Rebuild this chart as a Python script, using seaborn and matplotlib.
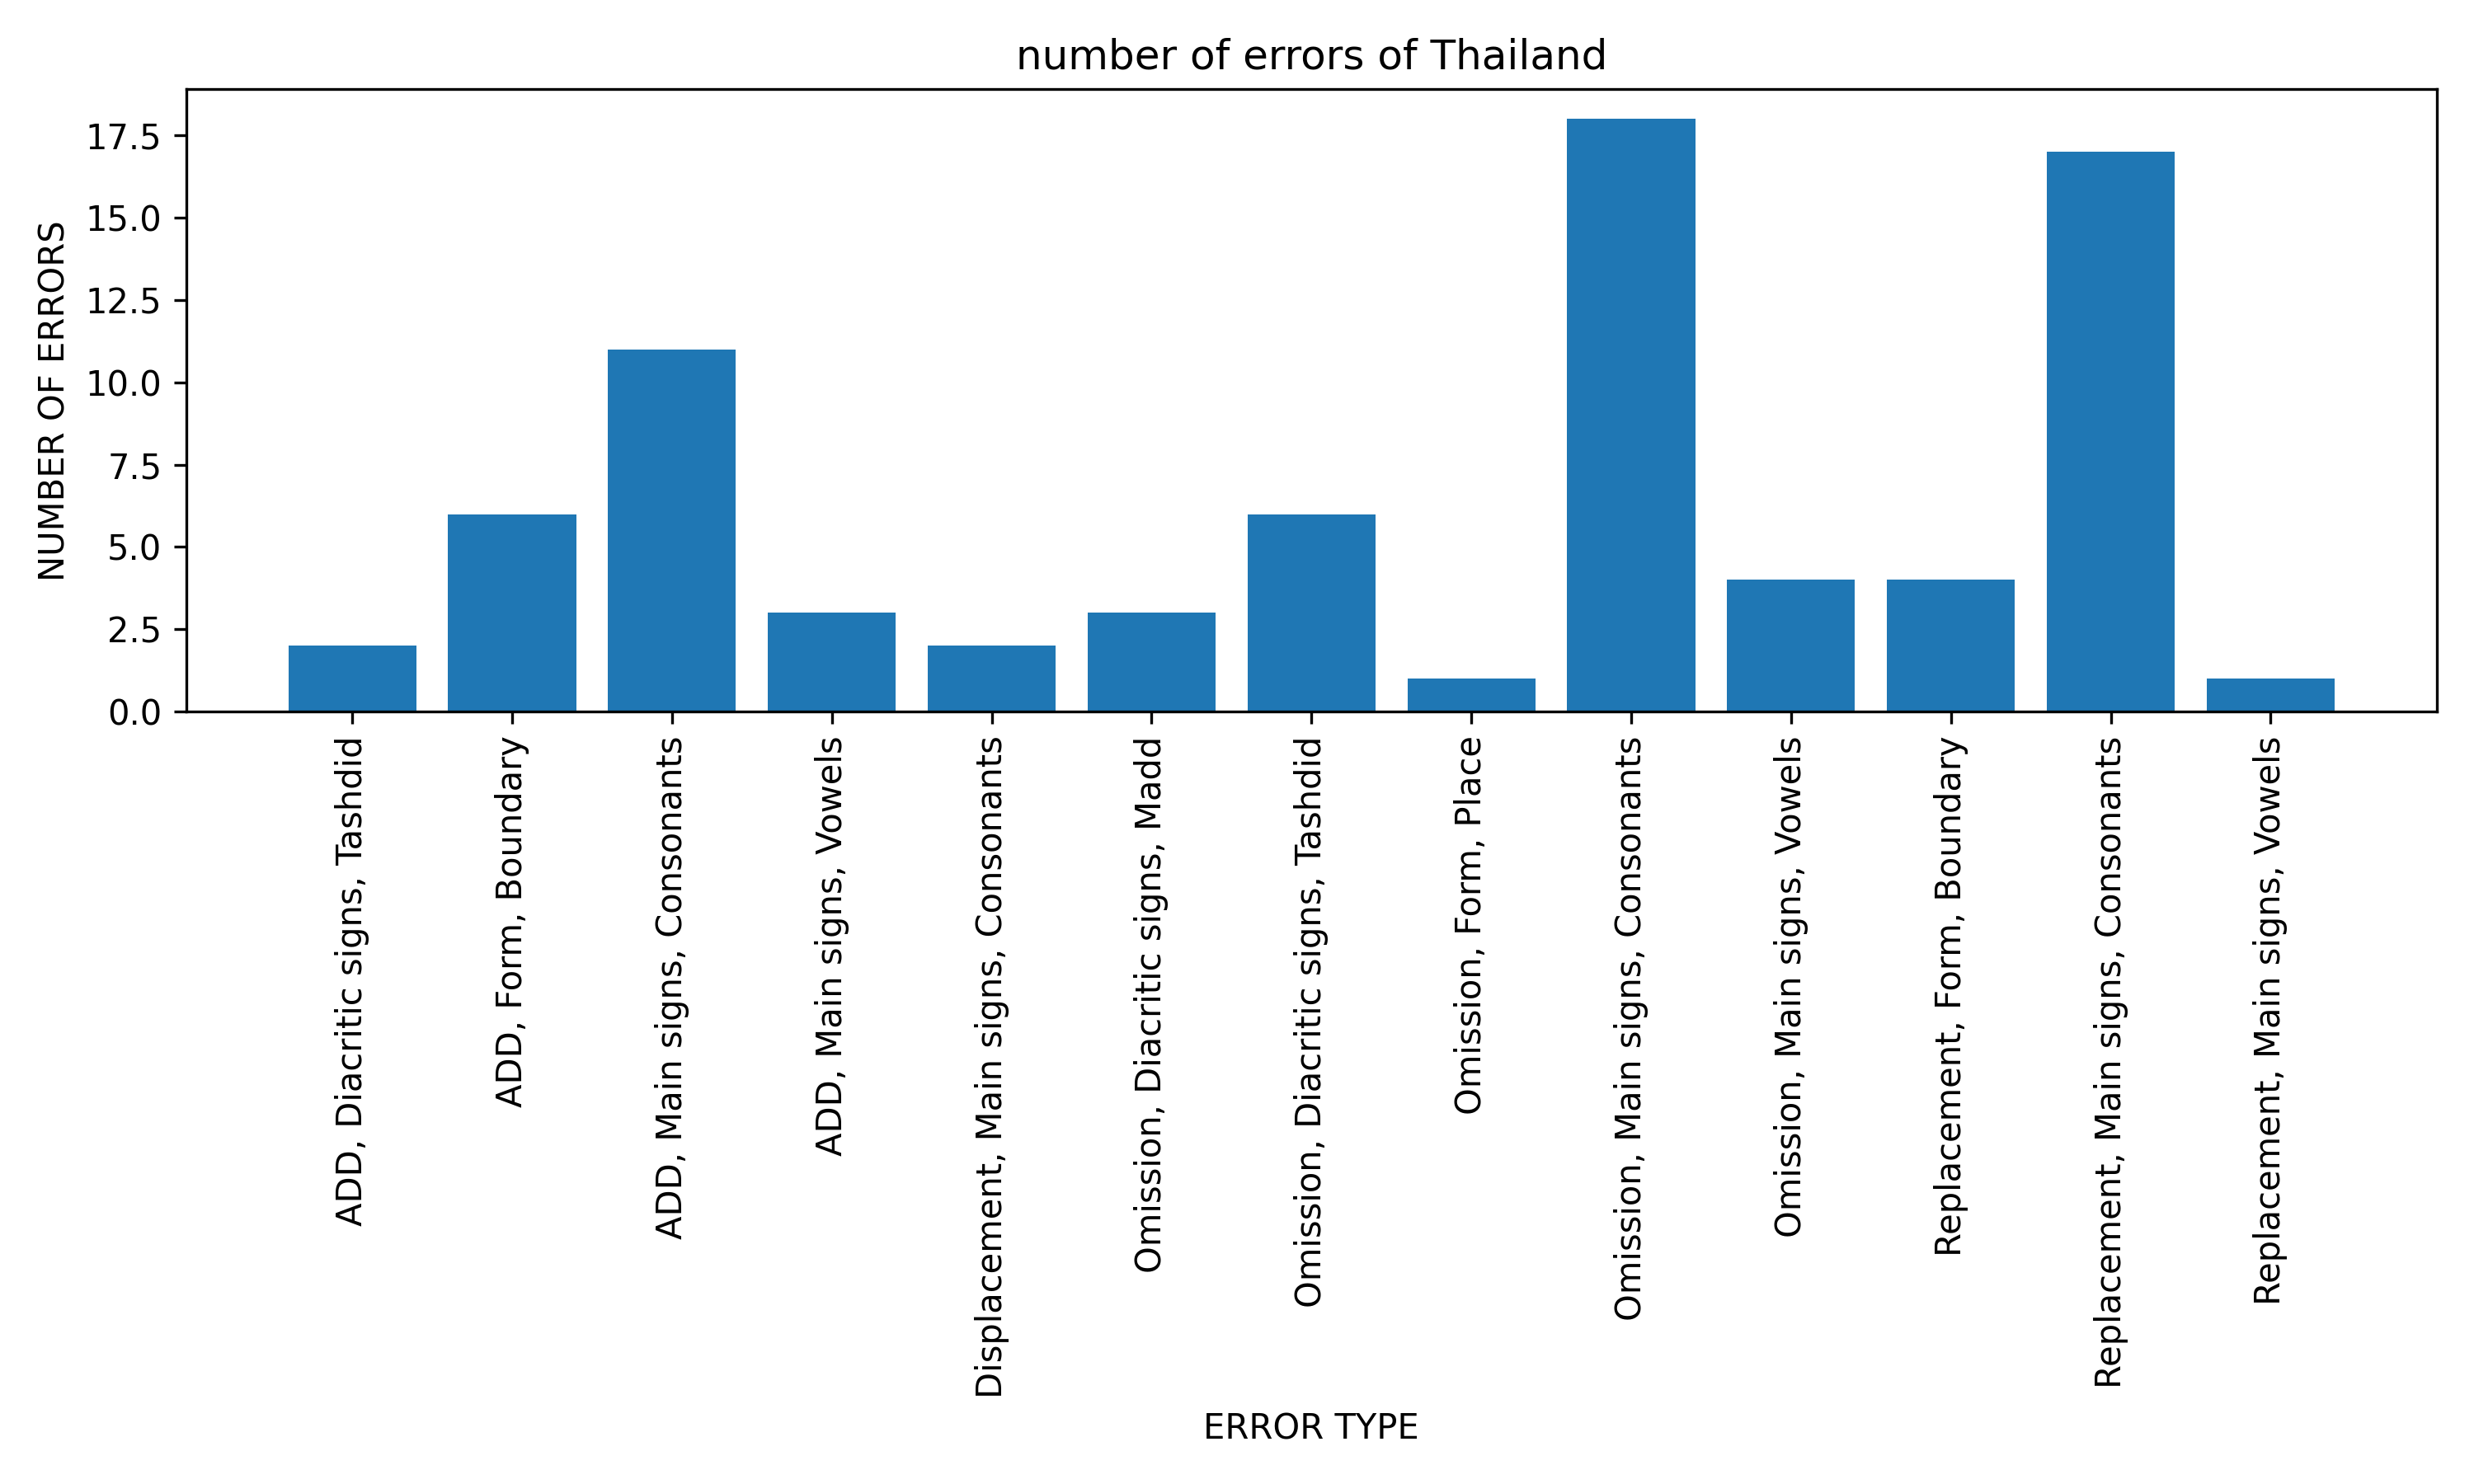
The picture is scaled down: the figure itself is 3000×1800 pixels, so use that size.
import matplotlib
matplotlib.use('Agg')
import matplotlib.pyplot as plt
import seaborn as sns
import pandas as pd

error_types = [
    "ADD, Diacritic signs, Tashdid",
    "ADD, Form, Boundary",
    "ADD, Main signs, Consonants",
    "ADD, Main signs, Vowels",
    "Displacement, Main signs, Consonants",
    "Omission, Diacritic signs, Madd",
    "Omission, Diacritic signs, Tashdid",
    "Omission, Form, Place",
    "Omission, Main signs, Consonants",
    "Omission, Main signs, Vowels",
    "Replacement, Form, Boundary",
    "Replacement, Main signs, Consonants",
    "Replacement, Main signs, Vowels",
]
error_counts = [2, 6, 11, 3, 2, 3, 6, 1, 18, 4, 4, 17, 1]

df = pd.DataFrame({'type': error_types, 'count': error_counts})

fig, ax = plt.subplots(figsize=(10, 6), dpi=300)
sns.barplot(data=df, x='type', y='count', color='#1f77b4', saturation=1, width=0.8, ax=ax)
ax.set_xlim(-1.04, 12.5 + 0.54)
ax.set_ylim(0, 18.9)
ax.tick_params(axis='x', rotation=90)
ax.set_title('number of errors of Thailand')
ax.set_xlabel('ERROR TYPE')
ax.set_ylabel('NUMBER OF ERRORS')
plt.tight_layout()
plt.savefig('out.png')
plt.close()
